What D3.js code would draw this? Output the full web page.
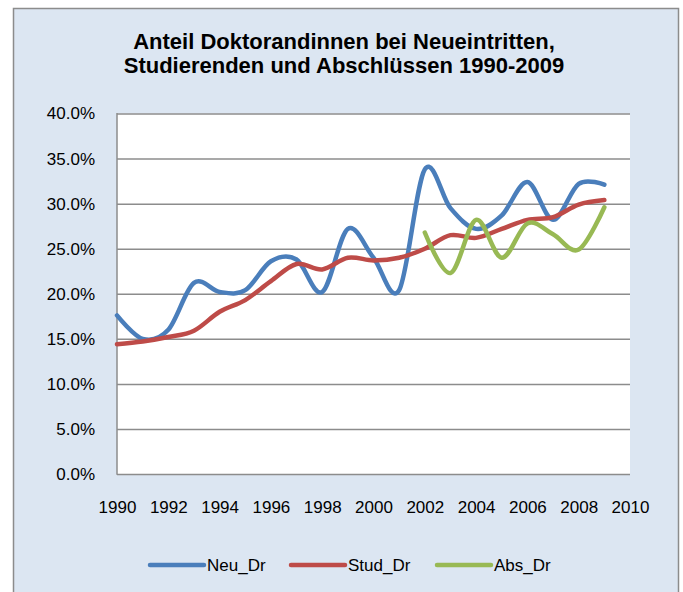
<!DOCTYPE html>
<html>
<head>
<meta charset="utf-8">
<script src="https://cdn.jsdelivr.net/npm/d3@7.9.0/dist/d3.min.js"></script>
<style>
  body { margin: 0; background: #fff; }
  svg { display: block; font-family: "Liberation Sans", Arial, sans-serif; }
</style>
</head>
<body>
<div id="chart"></div>
<script>
// values (percent)
const years = d3.range(1990, 2010);
const neuDr = [17.6, 15.0, 16.0, 21.2, 20.2, 20.4, 23.6, 23.8, 20.2, 27.2,
               24.0, 20.4, 33.8, 29.5, 27.2, 28.7, 32.4, 28.2, 32.2, 32.1];
const studDr = [14.4, 14.7, 15.2, 15.9, 18.0, 19.3, 21.4, 23.3, 22.7, 24.0,
                23.7, 24.0, 25.0, 26.5, 26.2, 27.2, 28.2, 28.5, 29.9, 30.4];
const absYears = d3.range(2002, 2010);
const absDr = [26.8, 22.3, 28.2, 24.0, 27.8, 26.6, 24.9, 29.6];

const xTicks = d3.range(1990, 2011, 2);
const yTicks = d3.range(0, 0.401, 0.05);
const titleLines = ['Anteil Doktorandinnen bei Neueintritten,', 'Studierenden und Abschlüssen 1990-2009'];

const series = [
  { name: 'Neu_Dr', color: '#4a7ebb', xs: years, ys: neuDr },
  { name: 'Stud_Dr', color: '#be4b48', xs: years, ys: studDr },
  { name: 'Abs_Dr', color: '#98b954', xs: absYears, ys: absDr },
];

const width = 683;
const height = 592;
const plot = { left: 117, right: 630, top: 113.5, bottom: 474 };

const svg = d3.select('#chart')
  .append('svg')
  .attr('width', width)
  .attr('height', height);

// chart frame
svg.append('rect')
  .attr('x', 13.5).attr('y', 8.5)
  .attr('width', 665).attr('height', 600)
  .attr('fill', '#dce6f2')
  .attr('stroke', '#8c8c8c')
  .attr('stroke-width', 1.5);

svg.append('g')
  .selectAll('text')
  .data(titleLines)
  .join('text')
  .attr('x', 344)
  .attr('y', (d, i) => 49 + i * 24)
  .attr('text-anchor', 'middle')
  .attr('font-size', 22)
  .attr('font-weight', 'bold')
  .attr('fill', '#000')
  .text(d => d);

const xScale = d3.scaleLinear()
  .domain([1990, 2010])
  .range([plot.left, plot.right]);

const yScale = d3.scaleLinear()
  .domain([0, 0.4])
  .range([plot.bottom, plot.top]);

svg.append('rect')
  .attr('x', plot.left).attr('y', plot.top)
  .attr('width', plot.right - plot.left)
  .attr('height', plot.bottom - plot.top)
  .attr('fill', '#fff');

// gridlines
const grid = svg.append('g')
  .attr('transform', `translate(${plot.left}, 0)`)
  .call(d3.axisLeft(yScale).tickValues(yTicks).tickFormat('').tickSize(-(plot.right - plot.left)));
grid.select('.domain').remove();
grid.selectAll('line').attr('stroke', '#8c8c8c').attr('stroke-width', 1.5);

// axis lines
svg.append('line')
  .attr('x1', plot.left).attr('x2', plot.left)
  .attr('y1', plot.top - 0.5).attr('y2', plot.bottom + 0.75)
  .attr('stroke', '#8c8c8c').attr('stroke-width', 1.5);

// y labels
const yAxis = svg.append('g')
  .attr('transform', `translate(${plot.left}, 0)`)
  .call(d3.axisLeft(yScale).tickValues(yTicks).tickFormat(d3.format('.1%')).tickSize(0).tickPadding(22));
yAxis.select('.domain').remove();
yAxis.selectAll('text')
  .attr('font-size', 17)
  .attr('font-family', '"Liberation Sans", Arial, sans-serif')
  .attr('fill', '#000');

// x labels
const xAxis = svg.append('g')
  .attr('transform', `translate(0, ${plot.bottom})`)
  .call(d3.axisBottom(xScale).tickValues(xTicks).tickFormat(d3.format('d')).tickSize(0).tickPadding(27));
xAxis.select('.domain').remove();
xAxis.selectAll('text')
  .attr('font-size', 17)
  .attr('font-family', '"Liberation Sans", Arial, sans-serif')
  .attr('fill', '#000');

// series
const line = d3.line()
  .x(d => xScale(d[0]))
  .y(d => yScale(d[1] / 100))
  .curve(d3.curveCatmullRom.alpha(0));

svg.append('g')
  .selectAll('path')
  .data(series)
  .join('path')
  .attr('d', s => line(d3.zip(s.xs, s.ys)))
  .attr('fill', 'none')
  .attr('stroke', s => s.color)
  .attr('stroke-width', 4.5)
  .attr('stroke-linecap', 'round')
  .attr('stroke-linejoin', 'round');

// legend
const legendX = [150, 291, 437];
const legend = svg.append('g')
  .selectAll('g')
  .data(series)
  .join('g')
  .attr('transform', (d, i) => `translate(${legendX[i]}, 565)`);

legend.append('line')
  .attr('x1', 0).attr('x2', 54)
  .attr('stroke', d => d.color)
  .attr('stroke-width', 4.5)
  .attr('stroke-linecap', 'round');

legend.append('text')
  .attr('x', 57)
  .attr('y', 6)
  .attr('font-size', 17)
  .attr('fill', '#000')
  .text(d => d.name);
</script>
</body>
</html>
